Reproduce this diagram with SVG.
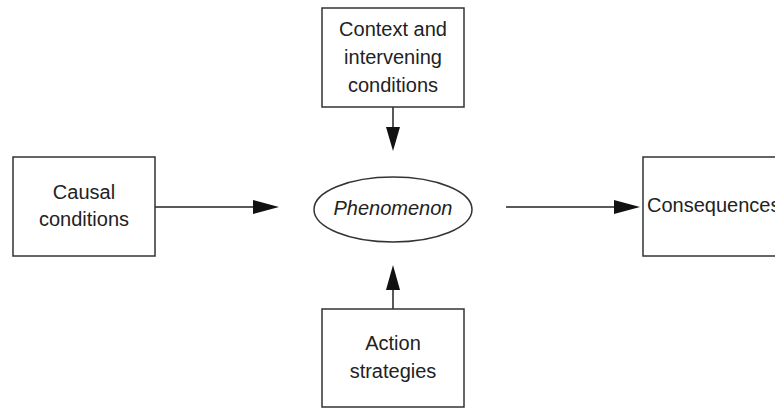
<svg xmlns="http://www.w3.org/2000/svg" width="775" height="409" viewBox="0 0 775 409">
<style>
.box{fill:#fff;stroke:#333;stroke-width:1.5}
.t{font-family:"Liberation Sans",Arial,sans-serif;font-size:20px;fill:#222;text-anchor:middle}
.line{stroke:#222;stroke-width:1.5;fill:none}
.head{fill:#111}
</style>
<rect width="775" height="409" fill="#fff"/>
<g id="connectors">
<line class="line" x1="393" y1="107" x2="393" y2="130"/>
<polygon class="head" points="386,127 400,127 393,151"/>
<line class="line" x1="155" y1="207" x2="256" y2="207"/>
<polygon class="head" points="253,200 253,214 279,207"/>
<line class="line" x1="506" y1="207" x2="617" y2="207"/>
<polygon class="head" points="614,200 614,214 640,207"/>
<line class="line" x1="393" y1="309" x2="393" y2="287"/>
<polygon class="head" points="386,290 400,290 393,265"/>
</g>
<g id="context">
<rect class="box" x="322" y="8" width="142" height="99"/>
<text class="t" x="393" y="36">Context and</text>
<text class="t" x="393" y="64">intervening</text>
<text class="t" x="393" y="92">conditions</text>
</g>
<g id="causal">
<rect class="box" x="13" y="157" width="142" height="99"/>
<text class="t" x="84" y="199">Causal</text>
<text class="t" x="84" y="226">conditions</text>
</g>
<g id="phenomenon">
<ellipse class="box" cx="393" cy="209.5" rx="79" ry="32.5"/>
<text class="t" x="393" y="215" font-style="italic">Phenomenon</text>
</g>
<g id="consequences">
<rect class="box" x="643" y="157" width="150" height="99"/>
<text class="t" x="647" y="212" style="text-anchor:start">Consequences</text>
</g>
<g id="action">
<rect class="box" x="322" y="309" width="142" height="98"/>
<text class="t" x="393" y="350">Action</text>
<text class="t" x="393" y="378">strategies</text>
</g>
</svg>
